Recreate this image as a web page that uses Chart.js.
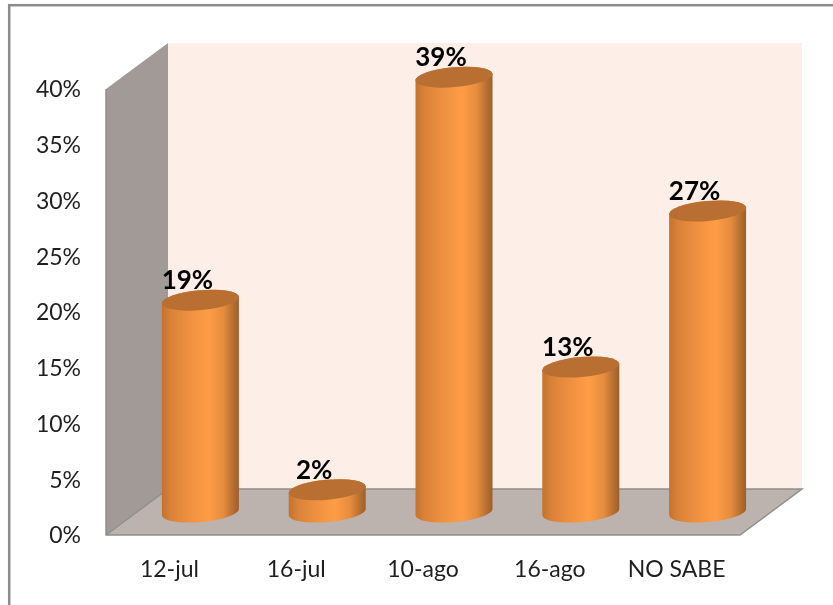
<!DOCTYPE html>
<html>
<head>
<meta charset="utf-8">
<script src="https://cdn.jsdelivr.net/npm/chart.js@4"></script>
<style>
html,body{margin:0;padding:0;background:#fff;overflow:hidden}
#wrap{position:absolute;left:0;top:0;width:833px;height:605px}
</style>
</head>
<body>
<div id="wrap"><canvas id="c" width="833" height="605"></canvas></div>
<script>
const categories = ['12-jul', '16-jul', '10-ago', '16-ago', 'NO SABE'];
const seriesValues = [19, 2, 39, 13, 27];
const yTicks = { min: 0, max: 40, step: 5 };

const DEPTH_X = 62, DEPTH_Y = -46;
const MID_X = 31, MID_Y = -23;
const TILT = -5 * Math.PI / 180, RY = 10;

class CylinderElement extends Chart.BarElement {
  static id = 'cylinder';
  draw(ctx) {
    const cx = this.x + MID_X, topY = this.y + MID_Y, baseY = this.base + MID_Y;
    const hw = this.width / 2, rx = hw / Math.cos(TILT);
    const g = ctx.createLinearGradient(cx - hw, 0, cx + hw, 0);
    g.addColorStop(0, '#c4722e');
    g.addColorStop(0.12, '#da8239');
    g.addColorStop(0.35, '#ee9040');
    g.addColorStop(0.6, '#ff9d46');
    g.addColorStop(0.8, '#e58c3e');
    g.addColorStop(0.93, '#b56d30');
    g.addColorStop(1, '#9c5f2b');
    ctx.save();
    ctx.beginPath();
    ctx.ellipse(cx, baseY, rx, RY, TILT, 0, Math.PI);
    ctx.ellipse(cx, topY, rx, RY, TILT, Math.PI, Math.PI * 2);
    ctx.closePath();
    ctx.fillStyle = g;
    ctx.fill();
    ctx.beginPath();
    ctx.ellipse(cx, topY, rx, RY, TILT, 0, Math.PI * 2);
    ctx.fillStyle = '#b96f31';
    ctx.fill();
    ctx.restore();
  }
}

class CylinderController extends Chart.BarController {
  static id = 'cylinder';
  static defaults = { ...Chart.BarController.defaults, dataElementType: 'cylinder' };
}
Chart.register(CylinderElement, CylinderController);

const scene = {
  id: 'scene',
  beforeDraw(chart) {
    const { ctx } = chart;
    ctx.save();
    ctx.fillStyle = '#ffffff';
    ctx.fillRect(0, 0, chart.width, chart.height);
    ctx.strokeStyle = '#8c8c8c';
    ctx.lineWidth = 2.5;
    ctx.strokeRect(9.2, 5.2, chart.width + 20, chart.height + 20);
    ctx.restore();
  },
  beforeDatasetsDraw(chart) {
    const { ctx, chartArea: a } = chart;
    const poly = (pts, fill) => {
      ctx.beginPath();
      pts.forEach((p, i) => i ? ctx.lineTo(p[0], p[1]) : ctx.moveTo(p[0], p[1]));
      ctx.closePath();
      ctx.fillStyle = fill;
      ctx.fill();
    };
    const L = a.left, R = a.right, T = a.top, B = a.bottom;
    ctx.save();
    poly([[L + DEPTH_X, T + DEPTH_Y], [R + DEPTH_X, T + DEPTH_Y], [R + DEPTH_X, B + DEPTH_Y], [L + DEPTH_X, B + DEPTH_Y]], '#fdeee7');
    poly([[L, T], [L + DEPTH_X, T + DEPTH_Y], [L + DEPTH_X, B + DEPTH_Y], [L, B]], '#a19a96');
    poly([[L, B], [L + DEPTH_X, B + DEPTH_Y], [R + DEPTH_X, B + DEPTH_Y], [R, B]], '#bdb3ae');
    ctx.strokeStyle = '#8f8f8f';
    ctx.lineWidth = 1.5;
    ctx.beginPath();
    ctx.moveTo(L, T); ctx.lineTo(L, B); ctx.lineTo(R, B); ctx.lineTo(R + DEPTH_X, B + DEPTH_Y);
    ctx.lineTo(L + DEPTH_X, B + DEPTH_Y); ctx.lineTo(L, B);
    ctx.stroke();
    ctx.restore();
  },
  afterDatasetsDraw(chart) {
    const { ctx } = chart;
    const meta = chart.getDatasetMeta(0);
    ctx.save();
    ctx.font = 'bold 26px Lato, sans-serif';
    ctx.fillStyle = '#000000';
    ctx.textAlign = 'center';
    ctx.textBaseline = 'alphabetic';
    meta.data.forEach((el, i) => {
      ctx.fillText(seriesValues[i] + '%', el.x + MID_X - 13, el.y + MID_Y - 11);
    });
    ctx.restore();
  }
};

new Chart(document.getElementById('c'), {
  type: 'cylinder',
  data: {
    labels: categories,
    datasets: [{ label: 'Serie', data: seriesValues, barThickness: 77, backgroundColor: '#ee9040', clip: false }]
  },
  plugins: [scene],
  options: {
    responsive: false,
    animation: false,
    layout: { padding: { top: 89, right: 93, left: 0, bottom: 0 } },
    plugins: { legend: { display: false }, tooltip: { enabled: false }, title: { display: false } },
    scales: {
      x: {
        type: 'category',
        offset: true,
        grid: { display: false },
        border: { display: false },
        afterFit: s => { s.height = 70; },
        ticks: { color: '#1f1f1f', padding: 13, maxRotation: 0, font: { family: 'Lato, sans-serif', size: 23 } }
      },
      y: {
        type: 'linear',
        min: yTicks.min,
        max: yTicks.max,
        grid: { display: false },
        border: { display: false },
        afterFit: s => { s.width = 106; },
        ticks: {
          stepSize: yTicks.step,
          color: '#1f1f1f',
          padding: 17,
          labelOffset: 1,
          callback: v => v + '%',
          font: { family: 'Lato, sans-serif', size: 23 }
        }
      }
    }
  }
});
</script>
</body>
</html>
